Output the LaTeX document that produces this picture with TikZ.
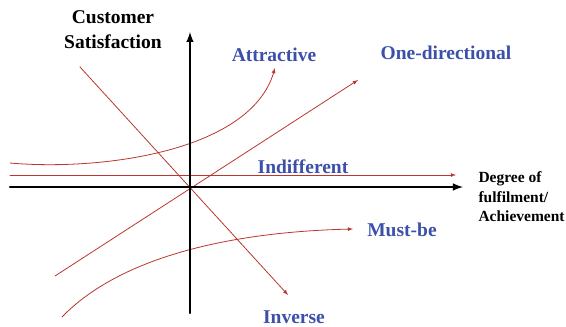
\documentclass[tikz,border=0pt]{standalone}
\usepackage{fontspec}
\setmainfont{Liberation Serif}
\usetikzlibrary{calc}

\definecolor{kanoRed}{RGB}{185,55,45}
\definecolor{kanoBlue}{RGB}{60,80,170}

\begin{document}
\begin{tikzpicture}[x=1pt, y=1pt, line cap=round, line join=round]

% ---------------- styles ----------------
\tikzset{
  kanoAxis/.style  ={draw=black, line width=2.4pt, -latex},
  kanoCurve/.style ={draw=kanoRed, line width=0.8pt},
  kanoType/.style  ={text=kanoBlue, font=\fontsize{19.5}{23}\selectfont\bfseries},
  kanoTitle/.style ={font=\fontsize{19.5}{25}\selectfont\bfseries, align=center},
  kanoSmall/.style ={font=\fontsize{15.5}{19.5}\selectfont\bfseries, align=left}
}

% ---------------- frame ----------------
\useasboundingbox (-190,-140) rectangle (376,187);

% ---------------- anchors ----------------
\coordinate (origin)  at (0,0);
\coordinate (yLow)    at (0,-126);
\coordinate (yHigh)   at (0,155);
\coordinate (xLow)    at (-180,0);
\coordinate (xHigh)   at (273,0);

\coordinate (indA)    at (-180,12);
\coordinate (indB)    at (266,12);
\coordinate (attA)    at (-180,24);
\coordinate (attB)    at (85,119);
\coordinate (oneA)    at (-135,-89);
\coordinate (oneB)    at (168,107);
\coordinate (invA)    at (-110,120);
\coordinate (invB)    at (98,-108);
\coordinate (mustA)   at (-128,-130);
\coordinate (mustB)   at (163,-42);

% ---------------- curves ----------------
\draw[kanoCurve, -latex] (indA) -- (indB);
\draw[kanoCurve, -latex] (attA) .. controls (-90,16) and (60,35) .. (attB);
\draw[kanoCurve, -latex] (oneA) -- (oneB);
\draw[kanoCurve, -latex] (invA) -- (invB);
\draw[kanoCurve, -latex] (mustA) .. controls (-70,-70) and (40,-45) .. (mustB);

% ---------------- axes ----------------
\draw[kanoAxis] (yLow) -- (yHigh);
\draw[kanoAxis] (xLow) -- (xHigh);

% ---------------- labels ----------------
\node[kanoTitle] (ySat) at (-77,157) {Customer\\Satisfaction};
\node[kanoSmall, anchor=west] (xDeg) at (285,-10) {Degree of\\fulfilment/\\Achievement};

\node[kanoType] (lblAtt)  at (84,132)   {Attractive};
\node[kanoType] (lblOne)  at (256,134)  {One-directional};
\node[kanoType] (lblInd)  at (113,20)   {Indifferent};
\node[kanoType] (lblMust) at (212,-43)  {Must-be};
\node[kanoType] (lblInv)  at (104,-130) {Inverse};

\end{tikzpicture}
\end{document}
